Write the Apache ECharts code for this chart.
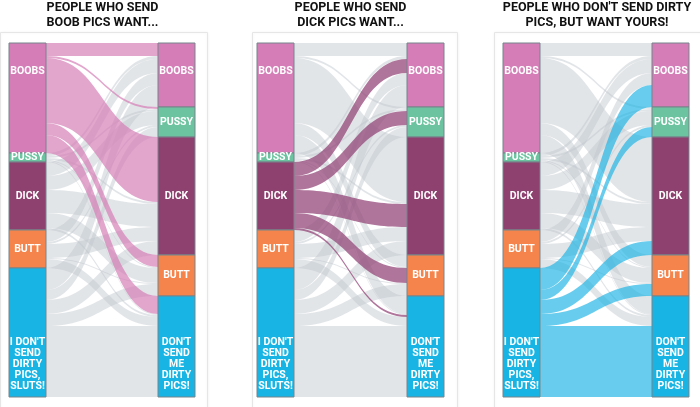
<!DOCTYPE html>
<html>
<head>
<meta charset="utf-8">
<script src="https://cdn.jsdelivr.net/npm/echarts@6/dist/echarts.min.js"></script>
<style>
html,body{margin:0;padding:0;background:#fff;}
#chart{width:700px;height:407px;}
</style>
</head>
<body>
<div id="chart"></div>
<script>
// ---- data ----
const leftLabels = ['BOOBS', 'PUSSY', 'DICK', 'BUTT', "I DON'T\nSEND\nDIRTY\nPICS,\nSLUTS!"];
const rightLabels = ['BOOBS', 'PUSSY', 'DICK', 'BUTT', "DON'T\nSEND\nME\nDIRTY\nPICS!"];
// flows[source][target], sources = left nodes, targets = right nodes
const flowBoobs = [13, 2, 65, 12, 18];
const flowPussy = [3, 2, 2, 1, 1];
const flowDick  = [14, 14, 23, 15, 2];
const flowButt  = [12, 2, 14, 1, 9];
const flowNone  = [22, 10, 14, 12, 71];
const flows = [flowBoobs, flowPussy, flowDick, flowButt, flowNone];
const panelTitles = ['PEOPLE WHO SEND\nBOOB PICS WANT...', 'PEOPLE WHO SEND\nDICK PICS WANT...', "PEOPLE WHO DON'T SEND DIRTY\nPICS, BUT WANT YOURS!"];
const highlightSource = [0, 2, 4];

// ---- styling ----
const nodeColors = ['#d47db6', '#6cc3a0', '#8e416f', '#f4844b', '#18b5e4'];
const highlightColors = ['#d57fb7', '#94477a', '#1fb4e4'];
const highlightOpacity = [0.7, 0.75, 0.68];
const panels = [
  {left: 9, right: 505, title: 102.5, card: [0, 207]},
  {left: 257, right: 256, title: 350.5, card: [252, 457]},
  {left: 503, right: 11, title: 597, card: [494, 706]}
];

function makeNodes() {
  const nodes = [];
  const mk = (side, labels) => labels.forEach((lab, i) => {
    let label = {formatter: lab};
    if (i === 0) label = {formatter: lab, position: 'insideTop', distance: 23};
    if (i === 4) label = {formatter: lab, position: 'insideBottom', distance: 6};
    nodes.push({name: side + i, itemStyle: {color: nodeColors[i]}, label});
  });
  mk('L', leftLabels);
  mk('R', rightLabels);
  return nodes;
}

function makeLinks(p) {
  const gray = [], hi = [];
  flows.forEach((row, s) => row.forEach((v, t) => {
    if (!v) return;
    const isHi = s === highlightSource[p];
    const link = {
      source: 'L' + s, target: 'R' + t, value: v,
      lineStyle: isHi ? {color: highlightColors[p], opacity: highlightOpacity[p]} : {color: '#bfc6cc', opacity: 0.45}
    };
    (isHi ? hi : gray).push(link);
  }));
  return gray.concat(hi);
}

const chart = echarts.init(document.getElementById('chart'), null, {renderer: 'canvas'});
const graphics = panels.map(pn => ({
  type: 'rect', z: 0,
  shape: {x: pn.card[0] + 0.5, y: 32.5, width: pn.card[1] - pn.card[0], height: 390},
  style: {fill: '#fff', stroke: '#e6e6e6', lineWidth: 1, shadowBlur: 3, shadowColor: 'rgba(0,0,0,0.06)'}
}));

const option = {
  backgroundColor: '#fff',
  animation: false,
  graphic: graphics,
  title: panels.map((pn, i) => ({
    text: panelTitles[i], left: pn.title, top: 0, padding: 0, textAlign: 'center',
    textStyle: {fontFamily: 'Roboto', fontSize: 12.5, fontWeight: 'bold', lineHeight: 15, color: '#111'}
  })),
  series: panels.map((pn, p) => ({
    type: 'sankey',
    left: pn.left, right: pn.right, top: 43, bottom: 10,
    nodeWidth: 37, nodeGap: 0, layoutIterations: 0, draggable: false,
    emphasis: {disabled: true},
    itemStyle: {borderColor: '#76858b', borderWidth: 1},
    label: {show: true, position: 'inside', color: '#fff', fontFamily: 'Roboto', fontWeight: 'bold', fontSize: 10.5, lineHeight: 11, align: 'center'},
    lineStyle: {curveness: 0.5},
    data: makeNodes(),
    links: makeLinks(p)
  }))
};
chart.setOption(option);
</script>
</body>
</html>
